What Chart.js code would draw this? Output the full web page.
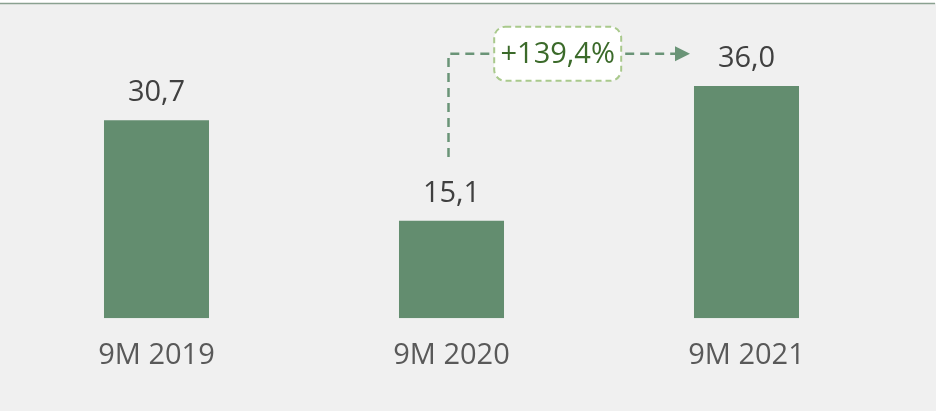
<!DOCTYPE html>
<html>
<head>
<meta charset="utf-8">
<script src="https://cdn.jsdelivr.net/npm/chart.js@4/dist/chart.umd.min.js"></script>
<style>
  html, body { margin: 0; padding: 0; background: #ffffff; }
  #wrap { width: 937px; height: 411px; }
</style>
</head>
<body>
<div id="wrap"><canvas id="chart" width="937" height="411"></canvas></div>
<script>
const categories = ['9M 2019', '9M 2020', '9M 2021'];
const values = [30.7, 15.1, 36.0];
const valueLabels = ['30,7', '15,1', '36,0'];
const growthLabel = '+139,4%';

const FONT = '"Open Sans", "Noto Sans", sans-serif';

// light grey panel with a thin rule on top
const backdrop = {
  id: 'backdrop',
  beforeDraw(chart) {
    const ctx = chart.ctx;
    ctx.save();
    ctx.fillStyle = '#f0f0f0';
    ctx.fillRect(0, 3, chart.width - 1, chart.height - 3);
    ctx.strokeStyle = '#8aa190';
    ctx.lineWidth = 1.5;
    ctx.beginPath();
    ctx.moveTo(0, 3.5);
    ctx.lineTo(chart.width - 2, 3.5);
    ctx.stroke();
    ctx.restore();
  }
};

// value labels above bars + growth arrow
const overlay = {
  id: 'overlay',
  afterDatasetsDraw(chart) {
    const ctx = chart.ctx;
    const bars = chart.getDatasetMeta(0).data;
    const x = chart.scales.x;
    const y = chart.scales.y;
    ctx.save();

    ctx.font = '29px ' + FONT;
    ctx.fillStyle = '#404040';
    ctx.textAlign = 'center';
    ctx.textBaseline = 'alphabetic';
    bars.forEach((bar, i) => {
      ctx.fillText(valueLabels[i], bar.x, bar.y - 19);
    });

    // dashed connector from 2020 to 2021
    const xStart = x.getPixelForValue(1) - 3;
    const yLow = y.getPixelForValue(25);
    const yHigh = y.getPixelForValue(41);
    const target = bars[2];
    const xEnd = target.x - target.width / 2 - 4;
    const boxCx = x.getPixelForValue(1.36);
    const boxW = 127, boxH = 54;

    ctx.strokeStyle = '#6a9477';
    ctx.lineWidth = 2.5;
    ctx.setLineDash([9, 6]);
    ctx.beginPath();
    ctx.moveTo(xStart, yLow);
    ctx.lineTo(xStart, yHigh);
    ctx.lineTo(boxCx - boxW / 2, yHigh);
    ctx.moveTo(boxCx + boxW / 2 + 4, yHigh);
    ctx.lineTo(xEnd - 15, yHigh);
    ctx.stroke();
    ctx.setLineDash([]);

    ctx.fillStyle = '#6a9477';
    ctx.beginPath();
    ctx.moveTo(xEnd - 15, yHigh - 7.5);
    ctx.lineTo(xEnd, yHigh);
    ctx.lineTo(xEnd - 15, yHigh + 7.5);
    ctx.closePath();
    ctx.fill();

    // rounded dashed box
    const bx = boxCx - boxW / 2, by = yHigh - boxH / 2;
    ctx.beginPath();
    ctx.roundRect(bx, by, boxW, boxH, 11);
    ctx.fillStyle = '#ffffff';
    ctx.fill();
    ctx.strokeStyle = '#a9c98c';
    ctx.lineWidth = 2;
    ctx.setLineDash([6, 4]);
    ctx.stroke();
    ctx.setLineDash([]);

    ctx.fillStyle = '#3b6a2a';
    ctx.font = '29px ' + FONT;
    ctx.textBaseline = 'middle';
    ctx.fillText(growthLabel, boxCx, yHigh + 1);

    ctx.restore();
  }
};

new Chart(document.getElementById('chart'), {
  type: 'bar',
  data: {
    labels: categories,
    datasets: [{
      data: values,
      backgroundColor: '#638d6f',
      borderWidth: 0,
      categoryPercentage: 1,
      barPercentage: 0.356
    }]
  },
  options: {
    responsive: false,
    animation: false,
    layout: { padding: { left: 9, right: 43, top: 28, bottom: 18 } },
    scales: {
      x: {
        grid: { display: false, drawTicks: false },
        border: { display: false },
        ticks: {
          color: '#595959',
          font: { family: FONT, size: 29 },
          padding: 20
        }
      },
      y: {
        display: false,
        min: 0,
        max: 45
      }
    },
    plugins: {
      legend: { display: false },
      tooltip: { enabled: false }
    }
  },
  plugins: [backdrop, overlay]
});
</script>
</body>
</html>
